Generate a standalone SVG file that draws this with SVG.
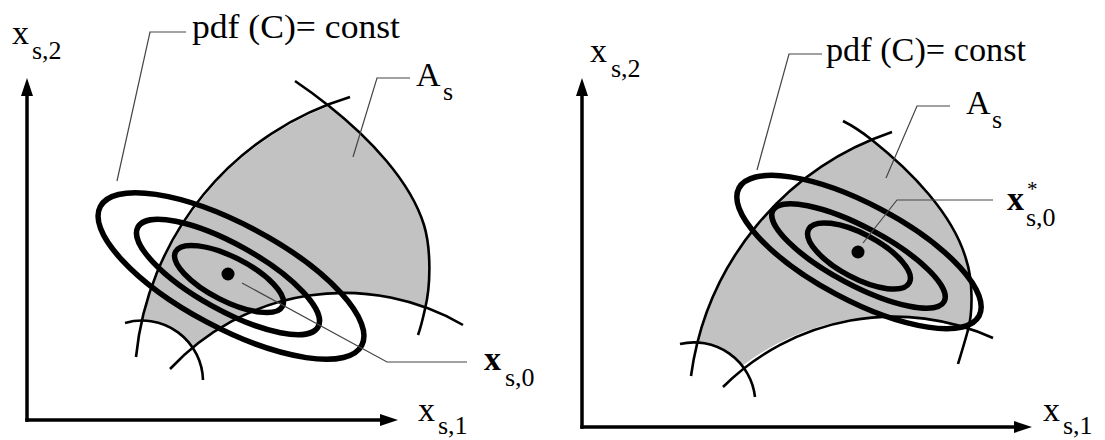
<svg xmlns="http://www.w3.org/2000/svg" width="1105" height="440" viewBox="0 0 1105 440">
<defs>
<marker id="arr" markerUnits="userSpaceOnUse" markerWidth="18" markerHeight="12" refX="8" refY="6" orient="auto"><path d="M0,0 L18,6 L0,12 z" fill="#000"/></marker>
<style>
.axis{stroke:#000;stroke-width:3.5;fill:none}
.arc{stroke:#000;stroke-width:2.6;fill:none}
.region{fill:#c2c2c2;stroke:none}
.ell{stroke:#000;stroke-width:5.5;fill:none}
.lead{stroke:#444;stroke-width:1.2;fill:none}
.t{font-family:"Liberation Serif","Times New Roman",serif;font-size:34px;fill:#000}
.sub{font-family:"Liberation Serif","Times New Roman",serif;font-size:26px;fill:#000}
.sup{font-family:"Liberation Serif","Times New Roman",serif;font-size:21px;fill:#000}
.b{font-weight:bold}
</style>
</defs>
<rect width="1105" height="440" fill="#fff"/>
<g id="left-panel">
  <path class="region" d="M143,320 A303,303 0 0,1 329,106 C368,137 410,180 424,225 C431,248 431,285 425,309 A237,237 0 0,0 192,347 A61,61 0 0,0 143,320 Z"/>
  <path class="arc" d="M136,357 A303,303 0 0,1 350,97"/>
  <path class="arc" d="M295,81 Q312,92.5 329,106 C368,137 410,180 424,225 C431,248 431,285 425,309 C423,318 421,327 418,335"/>
  <path class="arc" d="M170,369 A237,237 0 0,1 463,325"/>
  <path class="arc" d="M125,323 A61,61 0 0,1 203,380"/>
  <ellipse class="ell" cx="231" cy="276" rx="148" ry="52" transform="rotate(28 231 276)"/>
  <ellipse class="ell" cx="228" cy="277" rx="103" ry="33" transform="rotate(29 228 277)"/>
  <ellipse class="ell" cx="229" cy="279" rx="60" ry="22" transform="rotate(27 229 279)"/>
  <circle cx="228" cy="274" r="6.5" fill="#000"/>
  <line class="axis" x1="27" y1="421.7" x2="27" y2="88" marker-end="url(#arr)"/>
  <line class="axis" x1="25.3" y1="420" x2="388" y2="420" marker-end="url(#arr)"/>
</g>
<g id="left-labels">
  <g id="l-x2"><text class="t" x="12" y="44">x</text><text class="sub" x="32" y="59">s,2</text></g>
  <g id="l-pdf"><text class="t" x="192" y="38" textLength="208" lengthAdjust="spacingAndGlyphs">pdf (C)= const</text></g>
  <g id="l-as"><text class="t" x="416" y="86">A</text><text class="sub" x="443" y="100">s</text></g>
  <g id="l-x0"><text class="t b" x="484" y="370">x</text><text class="sub" x="505" y="386">s,0</text></g>
  <g id="l-x1"><text class="t" x="418" y="421">x</text><text class="sub" x="438" y="434">s,1</text></g>
</g>
<g id="right-panel">
  <path class="region" d="M697,343 A300,300 0 0,1 872,140 C911,171 953,214 966,259 C973,280 973,312 968,330 A242,242 0 0,0 742,366 A61.5,61.5 0 0,0 697,343 Z"/>
  <path class="arc" d="M691,376 A300,300 0 0,1 892,132"/>
  <path class="arc" d="M843,121 Q857,128 872,140 C911,171 953,214 966,259 C973,280 973,312 968,330 C964.5,343 961,354 958,364"/>
  <path class="arc" d="M723,387 A242,242 0 0,1 993,338"/>
  <path class="arc" d="M680,344 A61.5,61.5 0 0,1 755,397"/>
  <ellipse class="ell" cx="859" cy="252" rx="136" ry="48" transform="rotate(28 859 252)"/>
  <ellipse class="ell" cx="858.5" cy="256" rx="97" ry="29" transform="rotate(28 858.5 256)"/>
  <ellipse class="ell" cx="859" cy="256" rx="57" ry="22" transform="rotate(28 859 256)"/>
  <circle cx="858" cy="252" r="6.5" fill="#000"/>
  <line class="axis" x1="582" y1="428.7" x2="582" y2="88" marker-end="url(#arr)"/>
  <line class="axis" x1="580.3" y1="427" x2="1022" y2="427" marker-end="url(#arr)"/>
</g>
<g id="right-labels">
  <g id="r-x2"><text class="t" x="590" y="62">x</text><text class="sub" x="611" y="77">s,2</text></g>
  <g id="r-pdf"><text class="t" x="826" y="61" textLength="200" lengthAdjust="spacingAndGlyphs">pdf (C)= const</text></g>
  <g id="r-as"><text class="t" x="966" y="114">A</text><text class="sub" x="992" y="128">s</text></g>
  <g id="r-x0"><text class="t b" x="1007" y="210">x</text><text class="sup" x="1027" y="196">*</text><text class="sub" x="1026" y="226">s,0</text></g>
  <g id="r-x1"><text class="t" x="1043" y="421">x</text><text class="sub" x="1063" y="434">s,1</text></g>
</g>
<g id="connectors">
  <path class="lead" d="M186,32 L150,32 L117,181"/>
  <path class="lead" d="M410,78 L377,78 L353,157"/>
  <path class="lead" d="M242,283 L387,362 L467,362"/>
  <path class="lead" d="M822,54 L789,54 L757,170"/>
  <path class="lead" d="M950,106 L917,106 L886,178"/>
  <path class="lead" d="M863,243 L897,200 L993,200"/>
</g>
</svg>
